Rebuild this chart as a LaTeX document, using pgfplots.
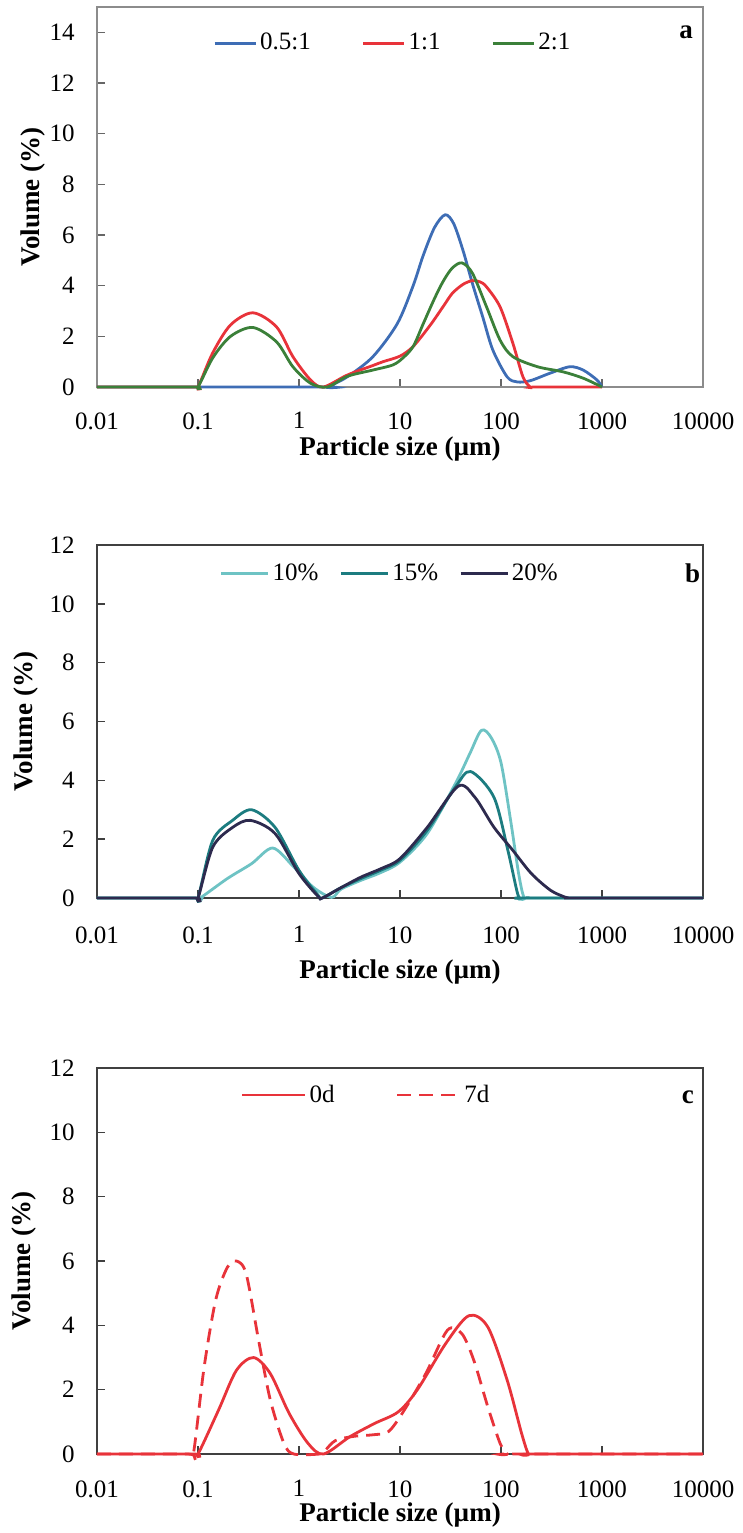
\documentclass[border=0pt]{standalone}
\usepackage{fontspec}
\setmainfont{Liberation Serif}
\usepackage{pgfplots}
\pgfplotsset{compat=1.18}
\definecolor{blueA}{HTML}{3E6DB5}
\definecolor{redA}{HTML}{E8333A}
\definecolor{greenA}{HTML}{3B8039}
\definecolor{cTen}{HTML}{6EC3C4}
\definecolor{cFif}{HTML}{1C7C80}
\definecolor{cTwe}{HTML}{2D2A4E}
\pgfplotsset{
    scale only axis, width=303pt,
    tick align=inside, tick pos=left,
    major tick length=4pt,
    tick label style={font=\fontsize{12.5}{14}\selectfont},
    yticklabel style={inner sep=0pt, xshift=-11pt},
    label style={font=\bfseries\fontsize{13.5}{15}\selectfont},
    every axis plot/.append style={line width=1.4pt, smooth, tension=0.5},
    legend style={draw=none, fill=none, legend columns=-1, anchor=center,
      inner sep=0pt, font=\fontsize{12.5}{14}\selectfont,
      nodes={inner sep=1.5pt}, cells={anchor=west}},
}
\pgfkeys{/pgf/number format/assume math mode=true}
\begin{document}
\begin{tikzpicture}
\useasboundingbox (0,0) rectangle (371.5pt,-766.5pt);
% ---------------- panel a
\begin{axis}[xmode=log, xmin=0.01, xmax=10000, ymin=0, clip=false,
  xtick={0.01,0.1,1,10,100,1000,10000},
  xticklabels={0.01,0.1,1,10,100,1000,10000},
  xminorticks=false,
  xticklabel style={inner sep=0pt, yshift=-12.5pt},
  xlabel={Particle size (µm)}, ylabel={Volume (\%)},
  at={(48.5pt,-3.5pt)}, anchor=north west, height=190pt,
  ymax=15, ytick={0,2,...,14},
  axis line style={draw=black!45, line width=0.9pt},
  every tick/.style={black!60, line width=0.8pt},
  ylabel style={at={(axis description cs:-0.106,0.5)}, anchor=center},
  xlabel style={at={(axis description cs:0.5,-0.163)}, anchor=center},
  legend style={at={(axis description cs:0.489,0.905)},
    /tikz/every even column/.append style={column sep=24pt}},
  legend image code/.code={\draw[#1] (0pt,0pt) -- (20.5pt,0pt);},
]
\addplot[blueA] coordinates {(0.01,0) (1.7,0) (1.9,0) (3,0.4) (5.4,1.2) (9.4,2.5) (13.5,4.0) (17,5.2) (22,6.3) (28,6.8) (34,6.45) (42,5.4) (52,4.1) (66,2.76) (83,1.46) (115,0.4) (145,0.2) (195,0.25) (308,0.55) (480,0.8) (650,0.67) (890,0.28) (1000,0)};
\addlegendentry{0.5:1}
\addplot[redA] coordinates {(0.01,0) (0.09,0) (0.1,0) (0.14,1.35) (0.21,2.45) (0.35,2.93) (0.6,2.37) (0.87,1.2) (1.3,0.28) (1.74,0) (3.0,0.47) (5.4,0.85) (6.8,1.0) (10,1.22) (13.5,1.6) (20,2.45) (27,3.2) (33,3.7) (42,4.05) (52,4.2) (62,4.15) (72,3.95) (98,3.16) (131,1.73) (165,0.4) (195,0) (220,0) (1000,0)};
\addlegendentry{1:1}
\addplot[greenA] coordinates {(0.01,0) (0.09,0) (0.1,0) (0.14,1.15) (0.21,2.0) (0.35,2.35) (0.6,1.78) (0.87,0.8) (1.3,0.15) (1.9,0) (3.0,0.42) (5.4,0.67) (8.5,0.87) (10.7,1.15) (13.5,1.6) (17,2.5) (22,3.5) (27,4.2) (33,4.7) (41,4.9) (52,4.5) (72,3.16) (98,1.85) (131,1.2) (230,0.8) (410,0.6) (650,0.35) (1000,0)};
\addlegendentry{2:1}
\node[font=\bfseries\fontsize{13.5}{15}\selectfont] at (axis description cs:0.972,0.934) {a};
\end{axis}
% ---------------- panel b
\begin{axis}[xmode=log, xmin=0.01, xmax=10000, ymin=0, clip=false,
  xtick={0.01,0.1,1,10,100,1000,10000},
  xticklabels={0.01,0.1,1,10,100,1000,10000},
  xminorticks=false,
  xticklabel style={inner sep=0pt, yshift=-14pt},
  xlabel={Particle size (µm)}, ylabel={Volume (\%)},
  at={(48.5pt,-272.5pt)}, anchor=north west, height=176.5pt,
  ymax=12, ytick={0,2,...,12},
  axis line style={draw=black!75, line width=0.9pt},
  every tick/.style={black!75, line width=0.8pt},
  ylabel style={at={(axis description cs:-0.117,0.5)}, anchor=center},
  xlabel style={at={(axis description cs:0.5,-0.2096)}, anchor=center},
  legend style={at={(axis description cs:0.484,0.92)},
    /tikz/every even column/.append style={column sep=9pt}},
  legend image code/.code={\draw[#1] (0pt,0pt) -- (23.5pt,0pt);},
]
\addplot[cTen] coordinates {(0.01,0) (0.095,0) (0.105,0) (0.195,0.66) (0.34,1.17) (0.55,1.7) (0.89,1.05) (1.38,0.37) (2.1,0.02) (2.6,0.3) (4.1,0.6) (6.3,0.85) (10,1.22) (18.6,2.19) (35.5,3.9) (49,4.9) (64,5.7) (80,5.45) (100,4.6) (125,2.6) (150,0.8) (170,0) (200,0) (10000,0)};
\addlegendentry{10\%}
\addplot[cFif] coordinates {(0.01,0) (0.09,0) (0.1,0) (0.14,1.96) (0.22,2.64) (0.34,3.0) (0.58,2.4) (1.0,0.94) (1.55,0.09) (1.7,0) (2.6,0.35) (4.1,0.66) (6.5,0.95) (10,1.28) (18.6,2.3) (35.5,3.78) (50,4.3) (85,3.43) (117,1.62) (146,0.15) (160,0) (180,0) (10000,0)};
\addlegendentry{15\%}
\addplot[cTwe] coordinates {(0.01,0) (0.09,0) (0.1,0) (0.14,1.73) (0.22,2.4) (0.33,2.64) (0.58,2.19) (1.0,0.83) (1.55,0.05) (1.7,0) (2.6,0.35) (4.1,0.71) (6.5,1.0) (10,1.34) (18.6,2.4) (37.6,3.8) (55,3.43) (85,2.41) (131,1.62) (200,0.83) (310,0.26) (430,0.03) (470,0) (520,0) (10000,0)};
\addlegendentry{20\%}
\node[font=\bfseries\fontsize{13.5}{15}\selectfont] at (axis description cs:0.983,0.92) {b};
\end{axis}
% ---------------- panel c
\begin{axis}[xmode=log, xmin=0.01, xmax=10000, ymin=0, clip=false,
  xtick={0.01,0.1,1,10,100,1000,10000},
  xticklabels={0.01,0.1,1,10,100,1000,10000},
  xminorticks=false,
  xticklabel style={inner sep=0pt, yshift=-13pt},
  xlabel={Particle size (µm)}, ylabel={Volume (\%)},
  at={(48.5pt,-534pt)}, anchor=north west, height=193pt,
  ymax=12, ytick={0,2,...,12},
  axis line style={draw=black!75, line width=0.9pt},
  every tick/.style={black!75, line width=0.8pt},
  ylabel style={at={(axis description cs:-0.12,0.5)}, anchor=center},
  xlabel style={at={(axis description cs:0.5,-0.159)}, anchor=center},
  legend style={at={(axis description cs:0.445,0.93)},
    /tikz/every even column/.append style={column sep=29pt}},
  legend image code/.code={\draw[#1] (0pt,0pt) -- (31.5pt,0pt);},
]
\addplot[redA] coordinates {(0.01,0) (0.09,0) (0.1,0) (0.16,1.37) (0.24,2.6) (0.355,3.0) (0.52,2.5) (0.8,1.26) (1.23,0.33) (1.75,0) (3.2,0.54) (5.6,0.95) (9.6,1.31) (14.8,1.99) (28.3,3.43) (48,4.3) (74,3.95) (115,2.3) (160,0.64) (187,0) (210,0) (10000,0)};
\addlegendentry{0d}
\addplot[redA, dash pattern=on 7pt off 4pt] coordinates {(0.01,0) (0.08,0) (0.09,0) (0.115,2.7) (0.15,4.8) (0.195,5.8) (0.24,6.0) (0.30,5.6) (0.40,3.5) (0.52,1.68) (0.71,0.33) (0.89,0) (1.6,0) (1.8,0.1) (2.3,0.42) (3.5,0.55) (5.5,0.6) (7.7,0.7) (10.7,1.3) (18,2.5) (29.5,3.85) (41,3.74) (54,2.9) (74,1.47) (98,0.33) (115,0) (130,0) (10000,0)};
\addlegendentry{7d}
\node[font=\bfseries\fontsize{13.5}{15}\selectfont] at (axis description cs:0.975,0.925) {c};
\end{axis}
\end{tikzpicture}
\end{document}
